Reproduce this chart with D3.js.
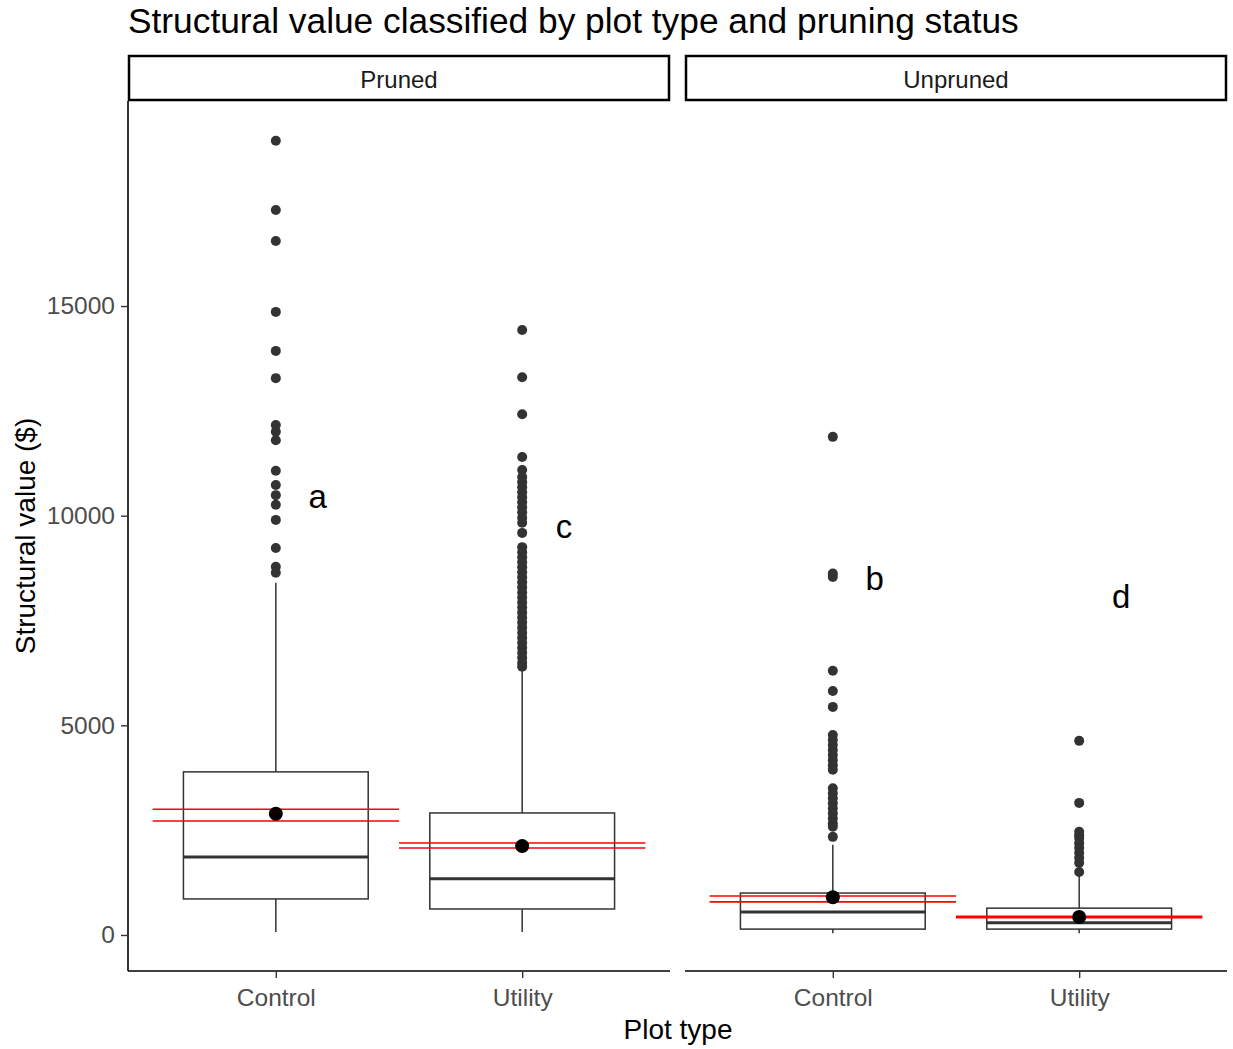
<!DOCTYPE html>
<html>
<head>
<meta charset="utf-8">
<script src="https://cdn.jsdelivr.net/npm/d3@7"></script>
<style>
  body { margin: 0; background: #fff; }
  svg text { font-family: "Liberation Sans", Arial, sans-serif; }
</style>
</head>
<body>
<svg id="chart" width="1233" height="1049"></svg>
<script>
// ---- data ----
var facets = ["Pruned", "Unpruned"];
var plotTypes = ["Control", "Utility"];

// one entry per box: Pruned/Control, Pruned/Utility, Unpruned/Control, Unpruned/Utility
var groupFacet = ["Pruned", "Pruned", "Unpruned", "Unpruned"];
var groupType = ["Control", "Utility", "Control", "Utility"];
var whiskerLow = [70, 70, 40, 40];
var q1 = [860, 620, 140, 140];
var median = [1860, 1340, 550, 290];
var q3 = [3890, 2910, 1000, 640];
var whiskerHigh = [8400, 6370, 2150, 1450];
var meanVal = [2890, 2120, 900, 430];
var ciLow = [2720, 2075, 790, 412];
var ciHigh = [3000, 2195, 930, 448];

var outliersPC = [18940, 17290, 16550, 14860, 13930, 13280, 12160, 12000, 11800,
  11070, 10730, 10490, 10260, 9900, 9230, 8780, 8640];
var outliersPU = [14430, 13300, 12420, 11400, 11090, 10920, 10800, 10680, 10560,
  10440, 10320, 10200, 10080, 9950, 9830, 9590, 9250, 9130, 9010, 8890, 8770,
  8650, 8530, 8410, 8290, 8170, 8050, 7930, 7810, 7690, 7570, 7450, 7330, 7210,
  7090, 6970, 6850, 6730, 6610, 6490, 6400];
var outliersUC = [11880, 8620, 8540, 6300, 5820, 5440, 4770, 4650, 4530, 4410,
  4290, 4170, 4050, 3940, 3500, 3380, 3260, 3140, 3020, 2900, 2780, 2660, 2580, 2340];
var outliersUU = [4630, 3150, 2460, 2380, 2310, 2190, 2080, 1960, 1840, 1720, 1500];
var outliers = [outliersPC, outliersPU, outliersUC, outliersUU];

var letterLabels = ["a", "c", "b", "d"];
var letterY = [10440, 9730, 8490, 8060];

var yTicks = [0, 5000, 10000, 15000];

// ---- layout ----
var svg = d3.select("#chart");
var panelLeft = {"Pruned": 128, "Unpruned": 685};
var panelW = 542;
var panelTop = 101, panelBottom = 971;
var stripTop = 55;
var fontFam = "'Liberation Sans', Arial, sans-serif";

var y = d3.scaleLinear().domain([-859, 19890]).range([panelBottom, panelTop]);

var xScales = {};
facets.forEach(function(f) {
  xScales[f] = d3.scalePoint().domain(plotTypes)
    .range([panelLeft[f], panelLeft[f] + panelW]).padding(0.6);
});

// title
svg.append("text")
  .attr("x", 128).attr("y", 33)
  .style("font-size", "35.3px")
  .attr("fill", "#000")
  .text("Structural value classified by plot type and pruning status");

// strips
facets.forEach(function(f) {
  svg.append("rect")
    .attr("x", panelLeft[f] + 1).attr("y", stripTop + 1)
    .attr("width", panelW - 2).attr("height", panelTop - stripTop - 2)
    .attr("fill", "#fff").attr("stroke", "#000").attr("stroke-width", 2.5);
  svg.append("text")
    .attr("x", panelLeft[f] + panelW / 2).attr("y", 88)
    .attr("text-anchor", "middle")
    .style("font-size", "24px")
    .attr("fill", "#1a1a1a")
    .text(f);
});

// panels
facets.forEach(function(f, fi) {
  var x = xScales[f];
  var step = x.step();
  var g = svg.append("g");

  var xAxis = d3.axisBottom(x).tickSize(7).tickPadding(11);
  var gx = g.append("g").attr("transform", "translate(0," + panelBottom + ")").call(xAxis);
  gx.select(".domain").attr("stroke", "#000").attr("stroke-width", 1.6)
    .attr("d", "M" + panelLeft[f] + ",0H" + (panelLeft[f] + panelW));
  gx.selectAll(".tick line").attr("stroke", "#333").attr("stroke-width", 1.4);
  gx.selectAll(".tick text").style("font-size", "24.5px").attr("fill", "#4d4d4d")
    .style("font-family", fontFam);

  if (fi === 0) {
    var yAxis = d3.axisLeft(y).tickValues(yTicks).tickSize(7).tickPadding(6)
      .tickFormat(d3.format("d"));
    var gy = g.append("g").attr("transform", "translate(" + panelLeft[f] + ",0)").call(yAxis);
    gy.select(".domain").attr("stroke", "#000").attr("stroke-width", 1.6)
      .attr("d", "M0," + panelTop + "V" + panelBottom);
    gy.selectAll(".tick line").attr("stroke", "#333").attr("stroke-width", 1.4);
    gy.selectAll(".tick text").style("font-size", "24.5px").attr("fill", "#4d4d4d")
      .style("font-family", fontFam);
  }

  var idx = d3.range(groupFacet.length).filter(function(i) { return groupFacet[i] === f; });
  var bw = step * 0.75;

  idx.forEach(function(i) {
    var cx = x(groupType[i]);
    var stroke = "#333333";
    // whiskers
    g.append("line").attr("x1", cx).attr("x2", cx)
      .attr("y1", y(q3[i])).attr("y2", y(whiskerHigh[i]))
      .attr("stroke", stroke).attr("stroke-width", 1.5);
    g.append("line").attr("x1", cx).attr("x2", cx)
      .attr("y1", y(q1[i])).attr("y2", y(whiskerLow[i]))
      .attr("stroke", stroke).attr("stroke-width", 1.5);
    // box
    g.append("rect")
      .attr("x", cx - bw / 2).attr("width", bw)
      .attr("y", y(q3[i])).attr("height", y(q1[i]) - y(q3[i]))
      .attr("fill", "none").attr("stroke", stroke).attr("stroke-width", 1.5);
    g.append("line")
      .attr("x1", cx - bw / 2).attr("x2", cx + bw / 2)
      .attr("y1", y(median[i])).attr("y2", y(median[i]))
      .attr("stroke", stroke).attr("stroke-width", 3);
    // outliers
    g.selectAll(null).data(outliers[i]).enter().append("circle")
      .attr("cx", cx).attr("cy", function(d) { return y(d); })
      .attr("r", 5).attr("fill", "#333333");
    // confidence lines
    [ciLow[i], ciHigh[i]].forEach(function(v) {
      g.append("line")
        .attr("x1", cx - step / 2).attr("x2", cx + step / 2)
        .attr("y1", y(v)).attr("y2", y(v))
        .attr("stroke", "#ff0000").attr("stroke-width", 1.6);
    });
    // mean
    g.append("circle").attr("cx", cx).attr("cy", y(meanVal[i]))
      .attr("r", 7).attr("fill", "#000");
    // letter
    g.append("text")
      .attr("x", cx + step * 0.17).attr("y", y(letterY[i]))
      .attr("dy", "0.32em")
      .attr("text-anchor", "middle")
      .style("font-size", "33px").attr("fill", "#000")
      .text(letterLabels[i]);
  });
});

// axis titles
svg.append("text")
  .attr("x", (128 + 1228) / 2).attr("y", 1039)
  .attr("text-anchor", "middle")
  .style("font-size", "28px").attr("fill", "#000")
  .text("Plot type");
svg.append("text")
  .attr("transform", "translate(35," + ((panelTop + panelBottom) / 2) + ") rotate(-90)")
  .attr("text-anchor", "middle")
  .style("font-size", "28px").attr("fill", "#000")
  .text("Structural value ($)");
</script>
</body>
</html>
